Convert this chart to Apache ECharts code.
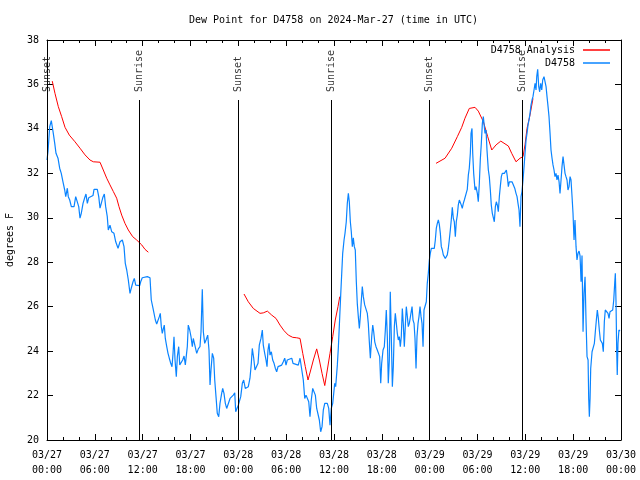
<!DOCTYPE html>
<html><head><meta charset="utf-8">
<script src="https://cdn.jsdelivr.net/npm/echarts@6/dist/echarts.min.js"></script>
<style>html,body{margin:0;padding:0;background:#fff}#c{width:640px;height:480px}</style>
</head><body><div id="c"></div>
<script>
const titleText = 'Dew Point for D4758 on 2024-Mar-27 (time in UTC)';
const yAxisName = 'degrees F';
const yMin = 20, yMax = 38, yStep = 2;
const xMinHour = 0, xMaxHour = 72, xStepHour = 6;
const dayLabels = ['03/27', '03/28', '03/29', '03/30'];
const legendNames = ['D4758 Analysis', 'D4758'];

const sunHours = [0.0, 11.6, 23.98, 35.66, 47.96, 59.64];
const sunNames = ['Sunset', 'Sunrise', 'Sunset', 'Sunrise', 'Sunset', 'Sunrise'];
const sunLineTop = 35.3;
const sunLabelAnchor = 35.66;

const analysisSeg1 = [[0.66,36.15],[1.00,35.6],[1.42,35.0],[1.84,34.55],[2.26,34.07],[2.80,33.72],[3.51,33.42],[4.14,33.13],[4.77,32.83],[5.39,32.6],[5.81,32.52],[6.65,32.5],[7.06,32.15],[7.49,31.78],[7.90,31.48],[8.32,31.18],[8.74,30.88],[9.03,30.5],[9.37,30.12],[9.78,29.75],[10.20,29.45],[10.75,29.15],[11.25,29.0],[11.88,28.78],[12.29,28.58],[12.71,28.45]];
const analysisSeg2 = [[24.71,26.57],[25.25,26.22],[25.88,25.92],[26.72,25.7],[27.13,25.72],[27.64,25.8],[28.19,25.62],[28.73,25.47],[29.23,25.17],[29.73,24.92],[30.27,24.72],[30.82,24.62],[31.32,24.6],[31.74,24.57],[32.08,23.9],[32.40,23.3],[32.74,22.7],[33.08,23.15],[33.41,23.6],[33.83,24.1],[34.16,23.6],[34.50,23.0],[34.84,22.45],[35.16,23.15],[35.50,23.9],[35.84,24.65],[36.16,25.4],[36.50,26.0],[36.72,26.45]];
const analysisSeg3 = [[48.80,32.45],[49.93,32.68],[50.77,33.13],[51.47,33.65],[52.02,34.07],[52.43,34.48],[52.97,34.92],[53.69,34.97],[54.10,34.8],[54.73,34.33],[55.28,33.65],[55.79,33.05],[56.33,33.28],[56.92,33.45],[57.87,33.23],[58.29,32.9],[58.83,32.52],[59.33,32.68],[59.71,32.75],[59.96,33.28],[60.21,34.02],[60.59,34.63],[60.96,35.37]];

const observed = [[0.00,32.6],[0.13,33.0],[0.34,34.1],[0.54,34.37],[0.66,34.43],[0.79,33.8],[0.97,33.35],[1.13,32.9],[1.38,32.68],[1.59,32.23],[1.79,32.0],[2.01,31.6],[2.22,31.25],[2.35,30.95],[2.55,31.33],[2.67,30.95],[2.85,30.8],[3.05,30.5],[3.39,30.5],[3.60,30.95],[3.80,30.9],[3.98,30.5],[4.14,29.98],[4.30,30.2],[4.52,30.65],[4.73,30.9],[4.89,31.07],[5.06,30.65],[5.23,30.9],[5.48,30.98],[5.77,31.0],[5.90,31.28],[6.31,31.28],[6.49,30.95],[6.65,30.43],[6.81,30.65],[6.99,30.9],[7.19,31.07],[7.36,30.5],[7.56,30.05],[7.69,29.45],[7.90,29.67],[8.12,29.37],[8.40,29.3],[8.62,28.92],[8.91,28.63],[9.16,28.92],[9.45,29.0],[9.66,28.7],[9.82,27.95],[10.00,27.65],[10.20,27.2],[10.41,26.6],[10.57,26.83],[10.79,27.12],[10.95,27.27],[11.13,26.97],[11.29,26.95],[11.63,26.95],[11.75,27.12],[11.95,27.3],[12.58,27.35],[12.92,27.3],[13.08,26.3],[13.30,25.92],[13.46,25.9],[13.59,25.4],[13.76,25.22],[13.96,25.22],[14.09,25.55],[14.21,25.7],[14.34,25.1],[14.46,24.8],[14.59,25.0],[14.71,25.17],[14.84,24.57],[15.02,24.2],[15.18,23.9],[15.34,23.68],[15.52,23.45],[15.68,23.3],[15.81,23.9],[15.93,24.65],[16.06,23.6],[16.22,22.85],[16.35,23.75],[16.52,24.2],[16.65,23.38],[16.85,23.38],[17.02,23.6],[17.19,23.78],[17.35,23.38],[17.47,23.3],[17.60,24.2],[17.72,25.17],[17.90,24.95],[18.06,24.65],[18.23,24.2],[18.35,24.57],[18.57,24.5],[18.78,23.9],[18.98,24.1],[19.19,24.2],[19.32,24.87],[19.48,26.78],[19.61,24.87],[19.78,24.35],[19.95,24.5],[20.16,24.72],[20.32,24.05],[20.45,22.48],[20.57,23.15],[20.74,23.9],[20.91,23.68],[21.04,22.7],[21.20,21.95],[21.36,21.2],[21.54,21.05],[21.70,21.65],[21.91,22.1],[22.04,22.32],[22.20,22.1],[22.37,21.65],[22.54,21.42],[22.74,21.42],[22.96,21.87],[23.17,21.87],[23.37,22.02],[23.55,22.12],[23.67,21.27],[23.83,21.42],[24.00,21.57],[24.17,21.57],[24.30,21.95],[24.50,22.55],[24.67,22.7],[24.87,22.32],[25.05,22.4],[25.25,22.4],[25.46,22.78],[25.63,23.45],[25.75,24.12],[25.93,23.68],[26.09,23.15],[26.31,23.23],[26.47,23.45],[26.63,24.27],[26.84,24.57],[27.01,24.95],[27.13,24.27],[27.31,23.9],[27.47,23.6],[27.60,23.3],[27.72,24.05],[27.85,24.35],[27.97,23.82],[28.14,23.97],[28.31,23.6],[28.48,23.45],[28.64,23.23],[28.81,23.07],[28.98,23.3],[29.14,23.37],[29.44,23.37],[29.64,23.52],[29.82,23.68],[29.98,23.37],[30.14,23.6],[30.32,23.68],[30.70,23.68],[30.86,23.45],[31.02,23.37],[31.52,23.37],[31.74,23.68],[31.99,23.68],[32.15,22.7],[32.33,21.87],[32.49,22.02],[32.65,21.95],[32.83,21.72],[32.99,21.05],[33.15,21.8],[33.33,22.32],[33.53,22.32],[33.66,22.02],[33.83,21.42],[33.99,21.35],[34.16,20.9],[34.33,20.37],[34.50,20.6],[34.66,21.35],[34.84,21.65],[35.16,21.65],[35.34,21.42],[35.50,20.67],[35.66,21.42],[35.84,21.65],[36.09,22.55],[36.21,22.4],[36.42,23.38],[36.54,24.12],[36.72,25.55],[36.84,26.52],[36.97,27.5],[37.09,28.4],[37.26,29.0],[37.38,29.3],[37.54,29.82],[37.67,30.65],[37.80,31.1],[37.92,30.72],[38.05,29.82],[38.17,29.37],[38.30,28.7],[38.42,29.1],[38.55,28.7],[38.67,28.55],[38.80,27.12],[38.92,26.15],[39.05,25.55],[39.18,25.02],[39.30,25.55],[39.43,26.3],[39.55,26.9],[39.68,26.45],[39.85,26.08],[40.05,26.0],[40.18,25.7],[40.30,25.25],[40.43,24.42],[40.56,23.68],[40.73,24.65],[40.86,25.17],[40.98,24.87],[41.11,24.42],[41.27,24.2],[41.43,24.05],[41.61,24.1],[41.73,23.75],[41.86,22.55],[41.98,23.45],[42.15,24.05],[42.31,24.2],[42.44,24.95],[42.56,25.85],[42.69,24.65],[42.81,22.55],[42.94,23.6],[43.06,26.67],[43.19,24.65],[43.32,22.4],[43.44,23.3],[43.57,25.1],[43.69,25.7],[43.82,25.25],[43.94,24.8],[44.07,24.5],[44.19,24.65],[44.32,24.2],[44.44,24.65],[44.57,25.92],[44.69,25.25],[44.82,24.2],[44.95,25.17],[45.07,26.0],[45.20,25.55],[45.32,25.1],[45.45,25.25],[45.66,25.25],[45.79,26.0],[45.91,25.4],[46.04,25.25],[46.16,24.57],[46.29,23.22],[46.41,24.65],[46.54,25.25],[46.66,25.55],[46.79,26.0],[46.92,25.55],[47.04,25.25],[47.17,24.2],[47.29,25.85],[47.42,25.92],[47.58,26.22],[47.70,27.05],[47.83,27.5],[47.96,28.1],[48.08,28.4],[48.21,28.62],[48.33,28.7],[48.46,28.55],[48.58,28.62],[48.71,29.0],[48.83,29.52],[48.96,29.75],[49.09,29.9],[49.21,29.7],[49.34,29.3],[49.46,28.7],[49.59,28.55],[49.71,28.33],[49.84,28.25],[49.96,28.17],[50.09,28.1],[50.21,28.33],[50.34,28.62],[50.46,29.0],[50.59,29.45],[50.71,29.9],[50.84,30.47],[50.97,29.97],[51.09,29.82],[51.22,29.15],[51.34,29.82],[51.47,30.12],[51.59,30.57],[51.72,30.8],[51.84,30.82],[51.97,30.57],[52.09,30.42],[52.22,30.65],[52.35,30.8],[52.47,30.87],[52.60,30.8],[52.72,31.28],[52.85,31.92],[52.97,32.23],[53.10,32.9],[53.19,33.8],[53.31,34.02],[53.40,32.9],[53.52,32.0],[53.69,31.25],[53.81,31.4],[53.98,31.1],[54.10,30.72],[54.23,31.55],[54.35,32.6],[54.48,33.35],[54.61,34.25],[54.73,34.55],[54.86,34.6],[54.94,33.8],[55.07,33.95],[55.19,33.05],[55.36,32.15],[55.48,31.85],[55.61,31.25],[55.73,30.57],[55.86,30.2],[55.98,30.13],[56.11,29.82],[56.24,30.5],[56.36,30.72],[56.49,30.57],[56.61,30.27],[56.74,30.95],[56.86,31.4],[56.99,31.85],[57.11,32.0],[57.24,32.08],[57.37,32.0],[57.49,32.08],[57.62,32.15],[57.74,31.85],[57.87,31.4],[57.99,31.62],[58.17,31.7],[58.33,31.62],[58.49,31.55],[58.67,31.33],[58.83,31.1],[58.96,30.95],[59.08,30.65],[59.21,30.35],[59.33,29.6],[59.46,30.95],[59.58,31.18],[59.71,31.7],[59.84,32.3],[59.96,32.9],[60.09,33.5],[60.21,33.8],[60.34,34.18],[60.46,34.4],[60.59,34.7],[60.71,35.07],[60.84,35.3],[60.96,35.45],[61.09,35.75],[61.22,36.05],[61.34,35.75],[61.43,36.35],[61.55,36.68],[61.68,35.9],[61.80,35.67],[61.93,36.05],[62.06,35.75],[62.18,36.2],[62.34,36.35],[62.47,36.27],[62.60,35.9],[62.72,35.45],[62.85,35.0],[62.97,34.55],[63.10,33.8],[63.22,33.05],[63.35,32.68],[63.47,32.38],[63.60,32.15],[63.72,31.85],[63.85,32.0],[63.97,31.7],[64.10,31.92],[64.23,31.62],[64.35,31.1],[64.48,31.7],[64.60,32.3],[64.73,32.75],[64.85,32.75],[64.98,32.0],[65.10,31.85],[65.23,31.7],[65.35,31.25],[65.48,31.4],[65.61,31.85],[65.73,31.7],[65.86,30.95],[65.98,30.2],[66.11,29.0],[66.23,29.9],[66.36,28.7],[66.48,28.1],[66.61,28.4],[66.74,28.5],[66.86,28.3],[66.99,27.12],[67.11,28.3],[67.24,24.87],[67.36,26.6],[67.49,27.35],[67.61,25.4],[67.74,23.75],[67.87,23.6],[67.95,21.87],[68.03,21.05],[68.12,21.87],[68.20,23.22],[68.37,23.97],[68.53,24.05],[68.66,24.35],[68.78,24.87],[68.91,25.4],[69.03,25.85],[69.16,25.47],[69.28,24.95],[69.41,24.5],[69.53,24.5],[69.66,24.35],[69.78,23.97],[69.91,25.32],[70.03,25.85],[70.21,25.85],[70.37,25.7],[70.50,25.47],[70.62,25.77],[70.79,25.85],[70.96,25.85],[71.09,26.3],[71.21,27.05],[71.29,27.5],[71.37,26.3],[71.46,24.05],[71.53,22.92],[71.62,24.35],[71.74,24.95],[71.87,24.9]];

const FONT = 'DejaVu Sans Mono';
const analysisData = analysisSeg1.concat([[12.9, '-']], analysisSeg2, [[40, '-']], analysisSeg3);

function xLabel(v) {
  const day = dayLabels[Math.floor(v / 24)];
  const hh = String(v % 24).padStart(2, '0');
  return day + '\n' + hh + ':00';
}

const baseX = {
  type: 'value', min: xMinHour, max: xMaxHour, interval: xStepHour,
  axisLine: { show: true, onZero: false, lineStyle: { color: '#000', width: 1 } },
  axisTick: { show: true, inside: true, length: 6, lineStyle: { color: '#000' } },
  minorTick: { show: true, splitNumber: 3, length: 3, lineStyle: { color: '#000' } },
  splitLine: { show: false }
};
const baseY = {
  type: 'value', min: yMin, max: yMax, interval: yStep,
  axisLine: { show: true, onZero: false, lineStyle: { color: '#000', width: 1 } },
  axisTick: { show: true, inside: true, length: 6, lineStyle: { color: '#000' } },
  splitLine: { show: false }
};

const chart = echarts.init(document.getElementById('c'), null, { renderer: 'canvas' });
chart.setOption({
  animation: false,
  backgroundColor: '#fff',
  title: {
    text: titleText, left: 184, top: 10,
    textStyle: { fontFamily: FONT, fontSize: 10, fontWeight: 'normal', color: '#000' }
  },
  grid: { left: 47, right: 19, top: 40, bottom: 40, containLabel: false, outerBoundsMode: 'none' },
  legend: {
    data: legendNames, orient: 'vertical', right: 25, top: 39, align: 'right',
    icon: 'rect', itemWidth: 27, itemHeight: 1.5, itemGap: 1,
    textStyle: { fontFamily: FONT, fontSize: 10, color: '#000', lineHeight: 12, padding: [0, 3, 0, 0] }
  },
  xAxis: [
    Object.assign({}, baseX, {
      position: 'bottom',
      axisLabel: { show: true, formatter: xLabel, fontFamily: FONT, fontSize: 10, color: '#000', margin: 8, lineHeight: 15 }
    }),
    Object.assign({}, baseX, { position: 'top', axisLabel: { show: false } })
  ],
  yAxis: [
    Object.assign({}, baseY, {
      position: 'left',
      name: yAxisName, nameLocation: 'middle', nameGap: 32, nameRotate: 90,
      nameTextStyle: { fontFamily: FONT, fontSize: 10, color: '#000' },
      axisLabel: { show: true, fontFamily: FONT, fontSize: 10, color: '#000', margin: 8 }
    }),
    Object.assign({}, baseY, { position: 'right', axisLabel: { show: false } })
  ],
  series: [
    {
      name: legendNames[0], type: 'line', data: analysisData, showSymbol: false, symbol: 'none',
      color: '#ff0000', lineStyle: { color: '#ff0000', width: 1 }, connectNulls: false, z: 2
    },
    {
      name: legendNames[1], type: 'line', data: observed, showSymbol: false, symbol: 'none',
      color: '#0a84ff', lineStyle: { color: '#0a84ff', width: 1.2 }, z: 3
    },
    {
      name: 'sun', type: 'scatter', symbolSize: 1, itemStyle: { color: 'rgba(0,0,0,0)' }, z: 4,
      data: sunHours.map((h, i) => ({ name: sunNames[i], value: [h, sunLabelAnchor] })),
      label: {
        show: true, formatter: p => p.name, position: 'inside', rotate: 90,
        align: 'left', verticalAlign: 'middle',
        fontFamily: FONT, fontSize: 10, color: '#000'
      },
      markLine: {
        silent: true, symbol: ['none', 'none'], animation: false,
        lineStyle: { color: '#000', width: 1, type: 'solid' },
        label: { show: false },
        data: sunHours.map(h => [{ coord: [h, yMin] }, { coord: [h, sunLineTop] }])
      }
    }
  ]
});
</script></body></html>
